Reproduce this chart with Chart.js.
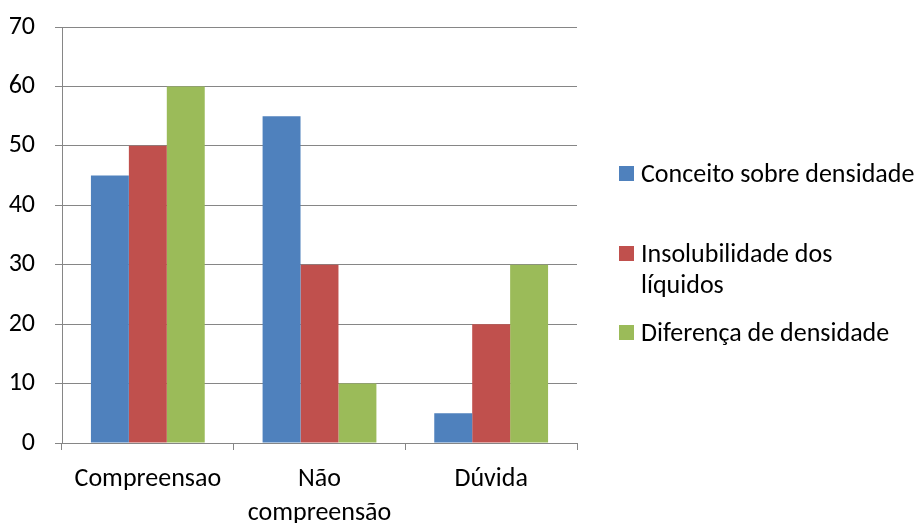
<!DOCTYPE html>
<html>
<head>
<meta charset="utf-8">
<script src="https://cdn.jsdelivr.net/npm/chart.js@4/dist/chart.umd.min.js"></script>
<style>
  html, body { margin: 0; padding: 0; background: #fff; }
  #wrap { position: relative; width: 924px; height: 523px; }
  #legend { position: absolute; left: 619px; top: 0; font-family: Carlito, Lato, sans-serif; font-size: 26px; color: #000; }
  .item { position: absolute; left: 0; width: 310px; line-height: 31px; }
  .box { position: absolute; left: 0; width: 15px; height: 15px; }
  .txt { position: absolute; left: 22px; white-space: nowrap; }
</style>
</head>
<body>
<div id="wrap">
  <canvas id="c" width="924" height="523"></canvas>
  <div id="legend"></div>
</div>
<script>
const categories = ['Compreensao', ['Não', 'compreensão'], 'Dúvida'];
const seriesNames = ['Conceito sobre densidade', 'Insolubilidade dos líquidos', 'Diferença de densidade'];
const conceito = [45, 55, 5];
const insolubilidade = [50, 30, 20];
const diferenca = [60, 10, 30];
const yTicks = [0, 10, 20, 30, 40, 50, 60, 70];

const colors = ['#4F81BD', '#C0504D', '#9BBB59'];
const seriesValues = [conceito, insolubilidade, diferenca];
const fontFamily = 'Carlito, Lato, sans-serif';
const gridColor = '#868686';

const datasets = seriesNames.map((name, i) => ({
  label: name,
  data: seriesValues[i],
  backgroundColor: colors[i],
  borderWidth: 0,
  categoryPercentage: 0.663,
  barPercentage: 1.0
}));

new Chart(document.getElementById('c'), {
  type: 'bar',
  data: { labels: categories, datasets },
  options: {
    responsive: false,
    animation: false,
    layout: { padding: { left: 0, top: 27, right: 347, bottom: 0 } },
    plugins: { legend: { display: false }, tooltip: { enabled: false } },
    scales: {
      x: {
        grid: { drawOnChartArea: false, drawTicks: true, tickLength: 7, color: gridColor, lineWidth: 1 },
        border: { color: gridColor, width: 1 },
        ticks: { color: '#000', font: { family: fontFamily, size: 26, lineHeight: 1.3 }, padding: 13, maxRotation: 0 },
        afterFit: s => { s.height = 80; s.paddingLeft = 0; s.paddingRight = 0; }
      },
      y: {
        min: 0, max: 70,
        afterBuildTicks: s => { s.ticks = yTicks.map(v => ({ value: v })); },
        grid: { color: gridColor, lineWidth: 1, tickLength: 7 },
        border: { color: gridColor, width: 1 },
        ticks: { color: '#000', font: { family: fontFamily, size: 26 }, padding: 20 },
        afterFit: s => { s.width = 62; s.paddingTop = 0; s.paddingBottom = 0; }
      }
    }
  }
});

// Legend on the right, with the long label wrapped onto two lines
const legendItems = [
  { top: 158, lines: ['Conceito sobre densidade'] },
  { top: 238, lines: ['Insolubilidade dos', 'líquidos'] },
  { top: 317, lines: ['Diferença de densidade'] }
];
const legend = document.getElementById('legend');
legendItems.forEach((it, i) => {
  const d = document.createElement('div');
  d.className = 'item';
  d.style.top = it.top + 'px';
  const b = document.createElement('div');
  b.className = 'box';
  b.style.background = colors[i];
  b.style.top = '8px';
  const t = document.createElement('div');
  t.className = 'txt';
  t.innerHTML = it.lines.join('<br>');
  d.appendChild(b); d.appendChild(t);
  legend.appendChild(d);
});
</script>
</body>
</html>
